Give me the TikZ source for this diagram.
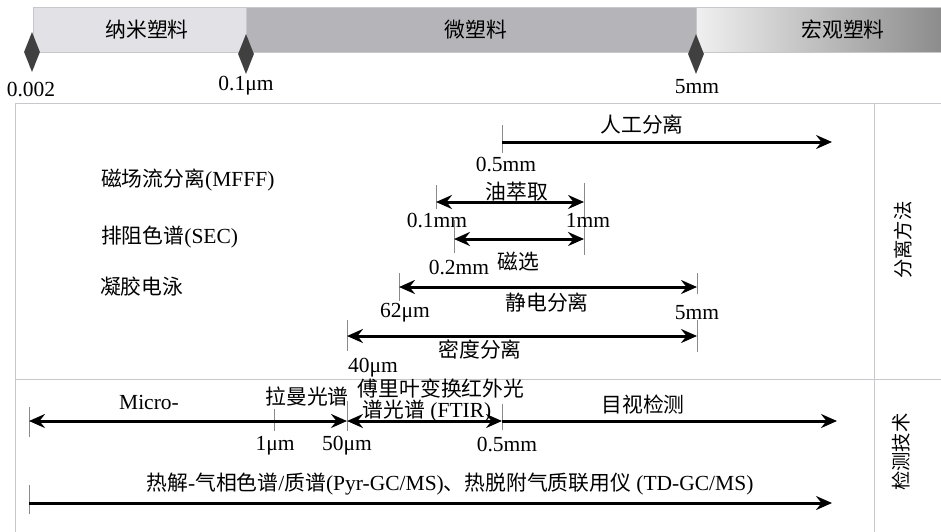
\documentclass[tikz,border=0pt]{standalone}
\usepackage{fontspec}
\setmainfont{Liberation Serif}
\newfontfamily\zhfont{Noto Sans CJK SC}[Scale=0.967]
\usetikzlibrary{arrows.meta,shapes.geometric}
\newcommand\zh[1]{{\zhfont #1}}
\definecolor{nanofill}{HTML}{E2E2E6}
\definecolor{microfill}{HTML}{B5B5B9}
\definecolor{frameclr}{HTML}{C8C8CC}
\definecolor{tickclr}{HTML}{8A8A8A}
\tikzset{
  lbl/.style={font=\fontsize{21.5}{23}\selectfont, inner sep=0pt},
  sidelbl/.style={font=\fontsize{20}{22}\selectfont, inner sep=0pt, rotate=90},
  tipstyle/.tip={Stealth[length=16pt,width=14pt,inset=5.5pt]},
  rarr/.style={line width=3pt, -tipstyle},
  darr/.style={line width=3pt, tipstyle-tipstyle},
  tickln/.style={draw=tickclr, line width=0.9pt},
  bandbox/.style={draw=frameclr, line width=0.6pt},
  dia/.style={diamond, fill=black!75, minimum width=16pt, minimum height=40pt, inner sep=0pt},
  frame/.style={draw=frameclr, line width=1pt}
}
\begin{document}
\begin{tikzpicture}[x=1pt,y=-1pt]
\useasboundingbox (0,0) rectangle (941,531);
% top band
\path[bandbox, fill=nanofill] (33,7) rectangle (246,52);
\path[bandbox, fill=microfill] (246,7) rectangle (696,52);
\path[bandbox, left color=black!6, right color=black!45] (696,7) rectangle (941,52);
\node[lbl] (nano) at (147,30) {\zh{纳米塑料}};
\node[lbl] (micro) at (476,30) {\zh{微塑料}};
\node[lbl] (macro) at (843,30) {\zh{宏观塑料}};
\node[dia] (d1) at (32,52) {};
\node[dia] (d2) at (246,54) {};
\node[dia] (d3) at (696,54) {};
\node[lbl] (s1) at (31,89) {0.002};
\node[lbl] (s2) at (246,86) {0.1μm};
\node[lbl] (s3) at (697,87) {5mm};
% frame
\draw[frame] (15,540) -- (15,103) -- (950,103);
\draw[frame] (874,103) -- (874,540);
\draw[frame] (15,379) -- (950,379);
\node[sidelbl] (sep) at (903,240) {\zh{分离方法}};
\node[sidelbl] (det) at (901,452) {\zh{检测技术}};
% left labels
\node[lbl, anchor=west] (mfff) at (101,180) {\zh{磁场流分离}(MFFF)};
\node[lbl, anchor=west] (sec) at (101,237) {\zh{排阻色谱}(SEC)};
\node[lbl, anchor=west] (gel) at (100,287) {\zh{凝胶电泳}};
% manual separation
\coordinate (m1) at (502,142); \coordinate (m2) at (832,142);
\coordinate (mt1) at (502,125); \coordinate (mt2) at (502,153);
\draw[tickln] (mt1) -- (mt2);
\draw[rarr] (m1) -- (m2);
\node[lbl] (manual) at (642,125) {\zh{人工分离}};
\node[lbl] (m05) at (506,164) {0.5mm};
% oil extraction
\coordinate (o1) at (436,202); \coordinate (o2) at (584,202);
\coordinate (ot1) at (436,185); \coordinate (ot2) at (436,209);
\coordinate (ot3) at (584,183); \coordinate (ot4) at (584,255);
\draw[tickln] (ot1) -- (ot2);
\draw[tickln] (ot3) -- (ot4);
\draw[darr] (o1) -- (o2);
\node[lbl] (oil) at (517,192) {\zh{油萃取}};
\node[lbl] (o01) at (437,220) {0.1mm};
\node[lbl] (o1mm) at (588,220) {1mm};
% magnetic
\coordinate (g1) at (454,239); \coordinate (g2) at (584,239);
\coordinate (gt1) at (454,220); \coordinate (gt2) at (454,253);
\draw[tickln] (gt1) -- (gt2);
\draw[darr] (g1) -- (g2);
\node[lbl] (g02) at (459,267) {0.2mm};
\node[lbl] (mag) at (518,262) {\zh{磁选}};
% electrostatic
\coordinate (e1) at (399,287); \coordinate (e2) at (697,287);
\coordinate (et1) at (399,273); \coordinate (et2) at (399,301);
\coordinate (et3) at (697,273); \coordinate (et4) at (697,294);
\draw[tickln] (et1) -- (et2);
\draw[tickln] (et3) -- (et4);
\draw[darr] (e1) -- (e2);
\node[lbl] (elec) at (547,303) {\zh{静电分离}};
\node[lbl] (e62) at (405,313) {62μm};
\node[lbl] (e5) at (697,313) {5mm};
% density
\coordinate (n1) at (347,336); \coordinate (n2) at (697,336);
\coordinate (nt1) at (347,320); \coordinate (nt2) at (347,351);
\coordinate (nt3) at (697,320); \coordinate (nt4) at (697,352);
\draw[tickln] (nt1) -- (nt2);
\draw[tickln] (nt3) -- (nt4);
\draw[darr] (n1) -- (n2);
\node[lbl] (dens) at (480,350) {\zh{密度分离}};
\node[lbl] (n40) at (373,368) {40μm};
% detection: micro-raman, FTIR, visual
\coordinate (r1) at (29,421); \coordinate (r2) at (347,421);
\coordinate (f2) at (502,421); \coordinate (v2) at (837,421);
\coordinate (rt1) at (29,407); \coordinate (rt2) at (29,437);
\coordinate (ut1) at (274,409); \coordinate (ut2) at (274,431);
\coordinate (ft1) at (347,401); \coordinate (ft2) at (347,431);
\coordinate (vt1) at (502,404); \coordinate (vt2) at (502,430);
\draw[tickln] (rt1) -- (rt2);
\draw[tickln] (ut1) -- (ut2);
\draw[tickln] (ft1) -- (ft2);
\draw[tickln] (vt1) -- (vt2);
\draw[darr] (r1) -- (r2);
\draw[darr] (r2) -- (f2);
\draw[rarr] (f2) -- (v2);
\node[lbl] (microl) at (149,402) {Micro-};
\node[lbl] (raman) at (307,397) {\zh{拉曼光谱}};
\node[lbl] (ftir1) at (441,389) {\zh{傅里叶变换红外光}};
\node[lbl] (ftir2) at (427,411) {\zh{谱光谱} (FTIR)};
\node[lbl] (visual) at (643,405) {\zh{目视检测}};
\node[lbl] (u1) at (275,446) {1μm};
\node[lbl] (u50) at (347,446) {50μm};
\node[lbl] (u05) at (507,444) {0.5mm};
% pyrolysis
\coordinate (p1) at (29,503); \coordinate (p2) at (832,503);
\coordinate (pt1) at (29,485); \coordinate (pt2) at (29,514);
\draw[tickln] (pt1) -- (pt2);
\draw[rarr] (p1) -- (p2);
\node[lbl] (pyr) at (450,484) {\zh{热解}-\zh{气相色谱}/\zh{质谱}(Pyr-GC/MS)\zh{、热脱附气质联用仪} (TD-GC/MS)};
\end{tikzpicture}
\end{document}
